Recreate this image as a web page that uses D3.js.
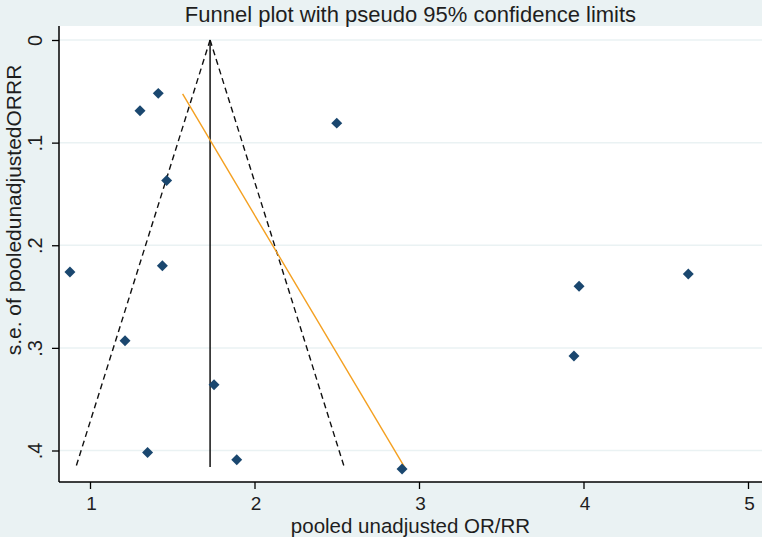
<!DOCTYPE html>
<html>
<head>
<meta charset="utf-8">
<script src="https://cdn.jsdelivr.net/npm/d3@7"></script>
<style>
  html, body { margin: 0; padding: 0; background: #eaf2f3; }
  svg { display: block; }
  text { font-family: "Liberation Sans", Arial, sans-serif; fill: #1e1e1e; }
</style>
</head>
<body>
<svg id="chart" width="762" height="537"></svg>
<script>
// ---- data ----
const orValues = [0.878, 1.304, 1.415, 2.50, 1.466, 1.44, 1.213, 1.754, 1.35, 1.892, 2.897, 3.973, 4.637, 3.942];
const seValues = [0.226, 0.069, 0.052, 0.081, 0.137, 0.220, 0.293, 0.336, 0.402, 0.409, 0.418, 0.240, 0.228, 0.308];
const pooledEstimate = 1.73;
const seMaxFunnel = 0.416;
const regressionOR = [1.563, 2.915];
const regressionSE = [0.0526, 0.417];
const xTickValues = [1, 2, 3, 4, 5];
const xTickLabels = ["1", "2", "3", "4", "5"];
const yTickValues = [0, 0.1, 0.2, 0.3, 0.4];
const yTickLabels = ["0", ".1", ".2", ".3", ".4"];
const titleText = "Funnel plot with pseudo 95% confidence limits";
const xTitle = "pooled unadjusted OR/RR";
const yTitle = "s.e. of pooledunadjustedORRR";

// ---- layout ----
const W = 762, H = 537;
const plot = { left: 59, right: 762, top: 26, bottom: 482 };
const svg = d3.select("#chart");

const x = d3.scaleLinear().domain([1, 5]).range([90, 748]);
const y = d3.scaleLinear().domain([0, 0.4]).range([40, 450.5]);

// background
svg.append("rect").attr("width", W).attr("height", H).attr("fill", "#eaf2f3");
svg.append("rect")
  .attr("x", plot.left).attr("y", plot.top)
  .attr("width", plot.right - plot.left).attr("height", plot.bottom - plot.top)
  .attr("fill", "#ffffff");

// gridlines
svg.append("g").selectAll("line").data(yTickValues).join("line")
  .attr("x1", plot.left).attr("x2", plot.right)
  .attr("y1", d => y(d)).attr("y2", d => y(d))
  .attr("stroke", "#eaf2f3").attr("stroke-width", 1.5);

// title
svg.append("text")
  .attr("x", (plot.left + plot.right) / 2).attr("y", 22)
  .attr("text-anchor", "middle").attr("font-size", 22)
  .text(titleText);

// axes
const xAxis = d3.axisBottom(x).tickValues(xTickValues)
  .tickFormat((d, i) => xTickLabels[i]).tickSize(7).tickSizeOuter(0);
const gx = svg.append("g").attr("transform", `translate(0,${plot.bottom})`).call(xAxis);
gx.select(".domain").remove();
gx.selectAll(".tick line").attr("stroke", "#000").attr("stroke-width", 1.3);
gx.selectAll(".tick text").attr("font-size", 19).attr("fill", "#1e1e1e")
  .attr("font-family", "Liberation Sans, Arial, sans-serif")
  .attr("y", 28).attr("dy", null).attr("dx", 1);
svg.append("line").attr("x1", plot.left).attr("x2", plot.right)
  .attr("y1", plot.bottom).attr("y2", plot.bottom)
  .attr("stroke", "#000").attr("stroke-width", 1.5);

const yAxis = d3.axisLeft(y).tickValues(yTickValues)
  .tickFormat((d, i) => yTickLabels[i]).tickSize(7).tickSizeOuter(0);
const gy = svg.append("g").attr("transform", `translate(${plot.left},0)`).call(yAxis);
gy.select(".domain").remove();
gy.selectAll(".tick line").attr("stroke", "#000").attr("stroke-width", 1.3);
gy.selectAll(".tick text")
  .attr("font-size", 20).attr("fill", "#1e1e1e")
  .attr("font-family", "Liberation Sans, Arial, sans-serif")
  .attr("x", null).attr("dy", null)
  .attr("text-anchor", "middle")
  .attr("transform", "translate(-24,0) rotate(-90)")
  .attr("y", 0).attr("dy", "0.36em");
svg.append("line").attr("x1", plot.left).attr("x2", plot.left)
  .attr("y1", plot.top).attr("y2", plot.bottom)
  .attr("stroke", "#000").attr("stroke-width", 1.5);

// axis titles
svg.append("text")
  .attr("x", (plot.left + plot.right) / 2).attr("y", 533)
  .attr("text-anchor", "middle").attr("font-size", 20.5)
  .text(xTitle);
svg.append("text")
  .attr("transform", `translate(21,210) rotate(-90)`)
  .attr("text-anchor", "middle").attr("font-size", 21)
  .text(yTitle);

// funnel (pseudo 95% limits)
const funnel = [
  [[pooledEstimate, 0], [pooledEstimate - 1.96 * seMaxFunnel, seMaxFunnel]],
  [[pooledEstimate, 0], [pooledEstimate + 1.96 * seMaxFunnel, seMaxFunnel]]
];
const line = d3.line().x(d => x(d[0])).y(d => y(d[1]));
svg.append("g").selectAll("path").data(funnel).join("path")
  .attr("d", line).attr("fill", "none")
  .attr("stroke", "#111").attr("stroke-width", 1.4)
  .attr("stroke-dasharray", "6,4");

// pooled vertical line
svg.append("path")
  .attr("d", line([[pooledEstimate, 0], [pooledEstimate, seMaxFunnel]]))
  .attr("stroke", "#111").attr("stroke-width", 1.5).attr("fill", "none");

// regression line
svg.append("path")
  .attr("d", line(regressionOR.map((v, i) => [v, regressionSE[i]])))
  .attr("stroke", "#f4a020").attr("stroke-width", 1.4).attr("fill", "none");

// points
const diamond = d3.symbol().type(d3.symbolSquare).size(60);
svg.append("g").selectAll("path").data(orValues.map((v, i) => [v, seValues[i]])).join("path")
  .attr("d", diamond)
  .attr("transform", d => `translate(${x(d[0])},${y(d[1])}) rotate(45)`)
  .attr("fill", "#1a476f");
</script>
</body>
</html>
